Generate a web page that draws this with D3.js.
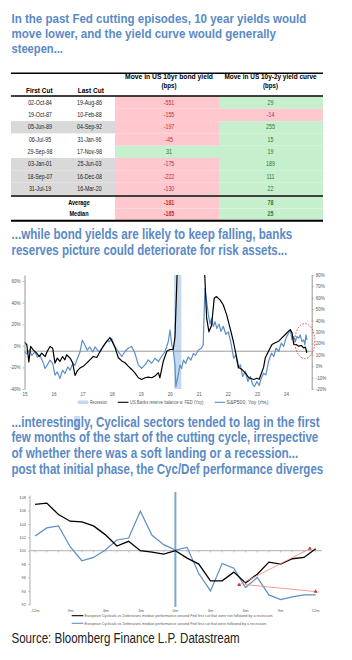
<!DOCTYPE html>
<html><head><meta charset="utf-8">
<script src="https://cdn.jsdelivr.net/npm/d3@7"></script>
<style>body{margin:0;background:#fff}svg{display:block}</style>
</head><body>
<svg id="c" width="352" height="660"></svg>
<script>
// ---------------- DATA ----------------
const title1Lines = ["In the past Fed cutting episodes, 10 year yields would","move lower, and the yield curve would generally","steepen..."];
const title2Lines = ["...while bond yields are likely to keep falling, banks","reserves picture could deteriorate for risk assets..."];
const title3Lines = ["...interestingly, Cyclical sectors tended to lag in the first","few months of the start of the cutting cycle, irrespective","of whether there was a soft landing or a recession...","post that initial phase, the Cyc/Def performance diverges"];
const sourceText = "Source: Bloomberg Finance L.P. Datastream";

// Table
const headerFirst = "First Cut", headerLast = "Last Cut";
const header10y = ["Move in US 10yr bond yield","(bps)"];
const header10s2s = ["Move in US 10y-2y yield curve","(bps)"];
const firstCut = ["02-Oct-84","19-Oct-87","05-Jun-89","06-Jul-95","29-Sep-98","03-Jan-01","18-Sep-07","31-Jul-19"];
const lastCut  = ["19-Aug-86","10-Feb-88","04-Sep-92","31-Jan-96","17-Nov-98","25-Jun-03","16-Dec-08","16-Mar-20"];
const move10y   = [-551,-155,-197,-45,31,-175,-222,-130];
const move10s2s = [29,-14,255,15,19,189,111,22];
const shadedRows = [false,false,true,false,false,true,true,true];
const summaryLabels = ["Average","Median"];
const summary10y = [-181,-165];
const summary10s2s = [78,25];

// Chart 2: banks reserves (lhs) vs S&P500 yoy (rhs)
const bankDates = [2015.00,2015.08,2015.15,2015.21,2015.30,2015.42,2015.51,2015.59,2015.71,2015.78,2015.88,2015.97,2016.05,2016.13,2016.22,2016.31,2016.39,2016.45,2016.57,2016.66,2016.74,2016.82,2016.91,2017.02,2017.14,2017.25,2017.37,2017.49,2017.60,2017.71,2017.83,2017.94,2018.00,2018.12,2018.23,2018.35,2018.46,2018.57,2018.69,2018.80,2018.92,2019.03,2019.15,2019.26,2019.38,2019.49,2019.61,2019.66,2019.78,2019.90,2020.01,2020.12,2020.18,2020.22,2020.27,2020.35,2020.60,2020.90,2021.10,2021.19,2021.27,2021.35,2021.44,2021.53,2021.61,2021.73,2021.84,2021.96,2022.07,2022.19,2022.28,2022.37,2022.49,2022.60,2022.72,2022.89,2023.00,2023.08,2023.12,2023.23,2023.29,2023.40,2023.52,2023.63,2023.75,2023.86,2023.98,2024.09,2024.15,2024.21,2024.27,2024.35,2024.44,2024.53,2024.61,2024.67,2024.72];
const bankValues = [3.4,1,-15,-0.6,-3.7,-6.8,-9.9,-6.8,-9.9,-5.2,-0.6,-2.2,-16,-11.4,-14.5,-9.9,-13,-8.3,-11.4,-16,-27.5,-23,-20.6,-19,-16,-13,-9.9,-10.8,-5.2,-0.6,4,7.7,5,-1.9,-11,-14,-15.7,-18.8,-21.9,-25,-29.6,-31.2,-29.6,-29,-29.6,-28,-25,-29.6,-14,-5,-3.4,-3.4,8,40,80,115,140,135,110,75,25.6,13,19,44,45.6,42.6,38,28.7,17,4,-8,-20,-22,-25,-29.6,-31.2,-30,-31,-28,-20,-11,-5,1.2,2.8,4.3,7.4,10.5,13.6,15,12,1.2,1.2,-0.3,0.3,-1.9,-1.2,-6.5];
const spxDates = [2015.00,2015.08,2015.17,2015.25,2015.36,2015.44,2015.53,2015.63,2015.71,2015.78,2015.88,2015.97,2016.05,2016.13,2016.22,2016.31,2016.39,2016.49,2016.57,2016.66,2016.74,2016.82,2016.91,2016.99,2017.08,2017.16,2017.25,2017.35,2017.43,2017.51,2017.60,2017.69,2017.77,2017.85,2017.92,2018.00,2018.12,2018.23,2018.35,2018.46,2018.57,2018.69,2018.80,2018.92,2019.03,2019.15,2019.26,2019.38,2019.49,2019.61,2019.72,2019.84,2019.95,2020.01,2020.07,2020.12,2020.18,2020.21,2020.29,2020.35,2020.41,2020.47,2020.55,2020.64,2020.73,2020.81,2020.89,2020.98,2021.08,2021.15,2021.21,2021.27,2021.33,2021.39,2021.44,2021.50,2021.56,2021.62,2021.70,2021.76,2021.84,2021.93,2022.02,2022.11,2022.20,2022.28,2022.35,2022.43,2022.51,2022.60,2022.69,2022.77,2022.86,2022.92,2023.00,2023.08,2023.15,2023.23,2023.31,2023.40,2023.50,2023.58,2023.66,2023.75,2023.84,2023.92,2024.00,2024.09,2024.15,2024.21,2024.27,2024.32,2024.38,2024.44,2024.49,2024.55,2024.61,2024.65,2024.69,2024.72];
const spxValues = [12.5,11,14,9.6,12.5,8,9.6,3.8,-2,0.9,5.3,2.4,-7.9,-5,-10.8,-3.5,-6.4,-0.6,-3.5,2.4,0.9,6.8,12.5,22.8,18.4,14,16.9,12.5,16.9,14,12.5,16.9,19.9,22.8,21.3,24.3,16.9,12.7,8.5,12.9,15.8,17.3,11.4,1.2,-1.8,1.2,5.5,2.6,7,4.1,8.5,12.9,21.7,31.8,18.7,14.3,1.2,-18,-7.9,0.9,-2,5.3,2.4,8.2,5.3,11.1,9.6,14,15.5,18.4,68,57,45,37,42,35,39,33,37,30.5,35,28,30,20,7,9.9,-1.8,1.2,-9,-4.6,-13.4,-9,-16.4,-17.8,-13.4,-16.9,-10.5,-6.1,-7.6,4.1,11.4,8.5,15.8,12.9,20.2,17.3,24.6,28.9,31.8,23,26,21.7,26,24.6,27.5,21.7,23,18.7,27.5,23];
const recession = [2020.15, 2020.40];
const yearTicks = [2015,2016,2017,2018,2019,2020,2021,2022,2023,2024];
const yearLabels = ["15","16","17","18","19","20","21","22","23","24"];
const leftTicks = [-40,-20,0,20,40,60];
const rightTicks = [-20,-10,0,10,20,30,40,50,60,70,80];
const crossLevel = -5;          // lhs level of the grey horizontal reference line
const circleCenter = [2024.65, 22]; // date, rhs value of dashed highlight
const legend2 = ["Recession","US Banks reserve balance w. FED (Yoy)","S&P500, Yoy (rhs)"];

// Chart 3: European Cyclicals vs Defensives around Fed first cut
const months = [-12,-11,-10,-9,-8,-7,-6,-5,-4,-3,-2,-1,0,1,2,3,4,5,6,7,8,9,10,11,12];
const noRecession = [106.9,107.1,105.4,104.4,104.3,103.7,102.4,100.7,101.4,100.0,99.8,99.5,100.0,98.9,98.0,95.5,95.5,96.8,95.2,96.5,98.3,98.0,98.8,99.0,100.3];
const withRecession = [102.2,103.4,103.7,100.6,98.5,99.0,100.1,101.6,101.9,105.9,102.3,100.9,100.1,100.5,96.6,94.0,98.1,97.4,94.5,96.0,93.4,92.7,93.1,93.4,93.4];
const monthTicks = [-12,-9,-6,-3,0,3,6,9,12];
const monthLabels = ["-12m","-9m","-6m","-3m","0m","3m","6m","9m","12m"];
const perfTicks = [92,94,96,98,100,102,104,106,108];
const arrowFrom = [[5.45,94.9],[5.9,94.95]];
const arrowTo = [[11.5,100.3],[12,93.9]];
const legend3 = ["European Cyclicals vs Defensives median performance around Fed first cut that were not followed by a recession",
                 "European Cyclicals vs Defensives median performance around Fed first cut that were followed by a recession"];

// ---------------- DRAWING ----------------
const FONT = '"Liberation Sans", Arial, Helvetica, sans-serif';
const BLUE_T = "#5a8ac6", LINE_BLUE = "#5b8fc7", GREY = "#595959";
const svg = d3.select("#c");

// text helper: optional width -> horizontally scaled to that width (via transform)
function txt(parent, x, y, s, o = {}) {
  const t = parent.append("text").text(s)
    .attr("font-family", FONT).attr("font-size", o.size || 10)
    .attr("font-weight", o.weight || "normal").attr("fill", o.fill || "#000")
    .attr("text-anchor", o.anchor || "start")
    .attr("x", 0).attr("y", 0);
  let sx = o.sx || 1;
  if (o.width) {
    const natural = t.node().getComputedTextLength();
    if (natural > 0) sx = o.width / natural;
  }
  t.attr("transform", `translate(${x},${y}) scale(${sx},1)`);
  return t;
}

// Title 1
const t1w = [295, 265, 51.5];
title1Lines.forEach((l, i) => txt(svg, 11.5, 22.5 + i * 15, l, {size: 12, weight: "bold", fill: BLUE_T, width: t1w[i]}));

// ---------------- TABLE ----------------
const tL = 11, tR = 323;
const colEdges = {c1: [11, 65], c2: [65, 115], c3: [115, 219], c4: [219, 323]};
const colX = d3.scaleOrdinal().domain(["c1","c2","c3","c4"]).range([40, 89.5, 169, 270.5]);
const rowY = d3.scaleBand().domain(d3.range(firstCut.length)).range([96.5, 194.9]);
const sumY = d3.scaleBand().domain(d3.range(summaryLabels.length)).range([197, 220]);
const RED_BG = "#ffc7ce", GREEN_BG = "#c6efce", RED_T = "#b8323c", GREEN_T = "#2d7a2d";
const tbl = svg.append("g");

// header
txt(tbl, 39.3, 92.5, headerFirst, {size: 6.5, weight: "bold", anchor: "middle", width: 26.5});
txt(tbl, 90.8, 92.5, headerLast, {size: 6.5, weight: "bold", anchor: "middle", width: 26.3});
txt(tbl, colX("c3"), 78.5, header10y[0], {size: 6.5, weight: "bold", anchor: "middle", width: 88});
txt(tbl, colX("c3"), 88, header10y[1], {size: 6.5, weight: "bold", anchor: "middle", width: 15});
txt(tbl, colX("c4"), 78.5, header10s2s[0], {size: 6.5, weight: "bold", anchor: "middle", width: 92.5});
txt(tbl, colX("c4"), 88, header10s2s[1], {size: 6.5, weight: "bold", anchor: "middle", width: 15});

// row backgrounds
firstCut.forEach((d, i) => {
  const y0 = rowY(i), h = rowY.bandwidth();
  if (shadedRows[i]) tbl.append("rect").attr("x", colEdges.c1[0]).attr("y", y0).attr("width", colEdges.c2[1] - colEdges.c1[0]).attr("height", h).attr("fill", "#d9d9d9");
  tbl.append("rect").attr("x", colEdges.c3[0]).attr("y", y0).attr("width", colEdges.c3[1] - colEdges.c3[0]).attr("height", h).attr("fill", move10y[i] < 0 ? RED_BG : GREEN_BG);
  tbl.append("rect").attr("x", colEdges.c4[0]).attr("y", y0).attr("width", colEdges.c4[1] - colEdges.c4[0]).attr("height", h).attr("fill", move10s2s[i] < 0 ? RED_BG : GREEN_BG);
});
summaryLabels.forEach((d, i) => {
  const y0 = sumY(i), h = sumY.bandwidth();
  tbl.append("rect").attr("x", colEdges.c3[0]).attr("y", y0).attr("width", 104).attr("height", h).attr("fill", summary10y[i] < 0 ? RED_BG : GREEN_BG);
  tbl.append("rect").attr("x", colEdges.c4[0]).attr("y", y0).attr("width", 104).attr("height", h).attr("fill", summary10s2s[i] < 0 ? RED_BG : GREEN_BG);
});
// row texts
firstCut.forEach((d, i) => {
  const yb = rowY(i) + rowY.bandwidth() / 2 + 2.2;
  txt(tbl, colX("c1"), yb, d, {size: 6.5, anchor: "middle", sx: 0.82, fill: "#222"});
  txt(tbl, colX("c2"), yb, lastCut[i], {size: 6.5, anchor: "middle", sx: 0.82, fill: "#222"});
  txt(tbl, colX("c3"), yb, move10y[i], {size: 6.5, anchor: "middle", sx: 0.82, fill: move10y[i] < 0 ? RED_T : GREEN_T});
  txt(tbl, colX("c4"), yb, move10s2s[i], {size: 6.5, anchor: "middle", sx: 0.82, fill: move10s2s[i] < 0 ? RED_T : GREEN_T});
});
summaryLabels.forEach((d, i) => {
  const yb = sumY(i) + sumY.bandwidth() / 2 + 2.2;
  txt(tbl, 79, yb, d, {size: 6.5, weight: "bold", anchor: "middle", sx: 0.85});
  txt(tbl, colX("c3"), yb, summary10y[i], {size: 6.5, weight: "bold", anchor: "middle", sx: 0.82, fill: summary10y[i] < 0 ? RED_T : GREEN_T});
  txt(tbl, colX("c4"), yb, summary10s2s[i], {size: 6.5, weight: "bold", anchor: "middle", sx: 0.82, fill: summary10s2s[i] < 0 ? RED_T : GREEN_T});
});
// rule lines
[[73.3, 1.6], [96, 1.6], [196, 1.6], [220.8, 2]].forEach(([y, w]) =>
  tbl.append("line").attr("x1", tL).attr("x2", tR).attr("y1", y).attr("y2", y).attr("stroke", "#000").attr("stroke-width", w));

// Title 2
const t2w = [281, 276];
title2Lines.forEach((l, i) => txt(svg, 11.5, 238.5 + i * 16, l, {size: 14, weight: "bold", fill: BLUE_T, width: t2w[i]}));

// ---------------- CHART 2 ----------------
const c2 = svg.append("g");
const x2 = d3.scaleLinear().domain([2015, 2025]).range([24.5, 315]);
const yL = d3.scaleLinear().domain([-40, 65.6]).range([389, 275]);
const yR = d3.scaleLinear().domain([-20, 80]).range([389, 275]);
const plotL = x2(2015), plotR = 311.7;

svg.append("defs").append("clipPath").attr("id", "clip2")
  .append("rect").attr("x", plotL).attr("y", 275).attr("width", plotR - plotL).attr("height", 114.5);

c2.append("rect").attr("x", x2(recession[0])).attr("y", yR(80)).attr("width", x2(recession[1]) - x2(recession[0]))
  .attr("height", yR(-20) - yR(80)).attr("fill", "#c5d9ee");

c2.append("line").attr("x1", plotL).attr("x2", plotR).attr("y1", yL(crossLevel)).attr("y2", yL(crossLevel))
  .attr("stroke", "#8c8c8c").attr("stroke-width", 0.9);

const lineL = d3.line().x((d, i) => x2(bankDates[i])).y(d => yL(d));
const lineR = d3.line().x((d, i) => x2(spxDates[i])).y(d => yR(d));
const pg = c2.append("g").attr("clip-path", "url(#clip2)");
pg.append("path").attr("d", lineR(spxValues)).attr("fill", "none").attr("stroke", LINE_BLUE).attr("stroke-width", 1.2).attr("stroke-linejoin", "round");
pg.append("path").attr("d", lineL(bankValues)).attr("fill", "none").attr("stroke", "#000").attr("stroke-width", 1.2).attr("stroke-linejoin", "round");

// axes
const axL = c2.append("g").attr("transform", `translate(${plotL},0)`)
  .call(d3.axisLeft(yL).tickValues(leftTicks).tickFormat(d => d + "%").tickSize(2).tickSizeOuter(0).tickPadding(2));
const axR = c2.append("g").attr("transform", `translate(${plotR},0)`)
  .call(d3.axisRight(yR).tickValues(rightTicks).tickFormat(d => d + "%").tickSize(2).tickSizeOuter(0).tickPadding(2));
[axL, axR].forEach(a => {
  a.select(".domain").attr("stroke", "#8c8c8c").attr("stroke-width", 0.9);
  a.selectAll(".tick line").attr("stroke", "#8c8c8c").attr("stroke-width", 0.6);
  a.selectAll(".tick text").attr("font-family", FONT).attr("font-size", 4.5).attr("fill", GREY);
});
const axB = c2.append("g").attr("transform", `translate(0,389)`)
  .call(d3.axisBottom(x2).tickValues(yearTicks).tickFormat((d, i) => yearLabels[i]).tickSize(0).tickPadding(4));
axB.select(".domain").remove();
axB.selectAll(".tick text").attr("font-family", FONT).attr("font-size", 4.5).attr("fill", GREY);

// dashed highlight ellipse
c2.append("ellipse").attr("cx", x2(circleCenter[0])).attr("cy", yR(circleCenter[1])).attr("rx", 10).attr("ry", 17.5)
  .attr("fill", "none").attr("stroke", "#d83a3a").attr("stroke-width", 0.9).attr("stroke-dasharray", "1.6,1.4");

// legend
c2.append("rect").attr("x", 77.7).attr("y", 400.5).attr("width", 10.5).attr("height", 3.5).attr("fill", "#c5d9ee");
txt(c2, 90, 404, legend2[0], {size: 4.5, fill: GREY, width: 17});
c2.append("line").attr("x1", 117.7).attr("x2", 128.5).attr("y1", 402.3).attr("y2", 402.3).attr("stroke", "#000").attr("stroke-width", 1.1);
txt(c2, 130, 404, legend2[1], {size: 4.5, fill: GREY, width: 73.5});
c2.append("line").attr("x1", 214.7).attr("x2", 225).attr("y1", 402.3).attr("y2", 402.3).attr("stroke", LINE_BLUE).attr("stroke-width", 1.1);
txt(c2, 226.5, 404, legend2[2], {size: 4.5, fill: GREY, width: 42});

// Title 3 (with a small highlight behind the "g" of "interestingly")
svg.append("rect").attr("x", 74).attr("y", 416).attr("width", 6.2).attr("height", 14).attr("fill", "#c9dbef");
const t3w = [308.5, 307, 287, 312];
title3Lines.forEach((l, i) => txt(svg, 11.5, 426.5 + i * 15.9, l, {size: 14, weight: "bold", fill: BLUE_T, width: t3w[i]}));

// ---------------- CHART 3 ----------------
const c3 = svg.append("g");
const x3 = d3.scaleLinear().domain([-12, 12]).range([35.1, 315.7]);
const y3 = d3.scaleLinear().domain([92, 108]).range([604.3, 497.1]);

c3.append("line").attr("x1", 30).attr("x2", 322).attr("y1", y3(100)).attr("y2", y3(100)).attr("stroke", "#a6a6a6").attr("stroke-width", 0.9);
c3.selectAll(".mt").data(months).enter().append("line")
  .attr("x1", d => x3(d)).attr("x2", d => x3(d)).attr("y1", y3(100)).attr("y2", y3(100) + 1.8)
  .attr("stroke", "#a6a6a6").attr("stroke-width", 0.6);

const ax3 = c3.append("g").attr("transform", "translate(30,0)")
  .call(d3.axisLeft(y3).tickValues(perfTicks).tickSize(2).tickSizeOuter(0).tickPadding(2));
ax3.select(".domain").attr("stroke", "#a6a6a6").attr("stroke-width", 0.9).attr("d", `M0,${y3(108) - 1.5}V${y3(92) + 1}`);
ax3.selectAll(".tick line").attr("stroke", "#a6a6a6").attr("stroke-width", 0.6);
ax3.selectAll(".tick text").attr("font-family", FONT).attr("font-size", 4).attr("fill", GREY);

c3.selectAll(".ml").data(monthTicks).enter().append("text")
  .attr("x", d => x3(d)).attr("y", 611.5).attr("text-anchor", "middle")
  .attr("font-family", FONT).attr("font-size", 4).attr("fill", GREY).text((d, i) => monthLabels[i]);

// vertical line at first cut
c3.append("line").attr("x1", x3(0)).attr("x2", x3(0)).attr("y1", 492).attr("y2", 607)
  .attr("stroke", "#7ea6cc").attr("stroke-width", 2);

const line3 = d3.line().x((d, i) => x3(months[i])).y(d => y3(d));
c3.append("path").attr("d", line3(withRecession)).attr("fill", "none").attr("stroke", LINE_BLUE).attr("stroke-width", 1.2);
c3.append("path").attr("d", line3(noRecession)).attr("fill", "none").attr("stroke", "#000").attr("stroke-width", 1.3);

// red annotation arrows
arrowFrom.forEach((f, i) => {
  const t = arrowTo[i];
  c3.append("line").attr("x1", x3(f[0])).attr("y1", y3(f[1])).attr("x2", x3(t[0])).attr("y2", y3(t[1]))
    .attr("stroke", "#f09090").attr("stroke-width", 0.9);
});
const tri = d3.symbol().type(d3.symbolTriangle).size(7);
[arrowFrom[0], arrowTo[0], arrowTo[1]].forEach(p =>
  c3.append("path").attr("d", tri()).attr("transform", `translate(${x3(p[0])},${y3(p[1])})`).attr("fill", "#e03030"));

// legend
c3.append("line").attr("x1", 71.7).attr("x2", 83.3).attr("y1", 615.7).attr("y2", 615.7).attr("stroke", "#000").attr("stroke-width", 1.1);
txt(c3, 84.5, 617.2, legend3[0], {size: 3.8, fill: GREY, width: 189});
c3.append("line").attr("x1", 71.7).attr("x2", 83.3).attr("y1", 623.3).attr("y2", 623.3).attr("stroke", LINE_BLUE).attr("stroke-width", 1.1);
txt(c3, 84.5, 624.8, legend3[1], {size: 3.8, fill: GREY, width: 182.5});

// Source
txt(svg, 11.5, 643.3, sourceText, {size: 15, fill: "#222", width: 228.5});
</script>
</body></html>
